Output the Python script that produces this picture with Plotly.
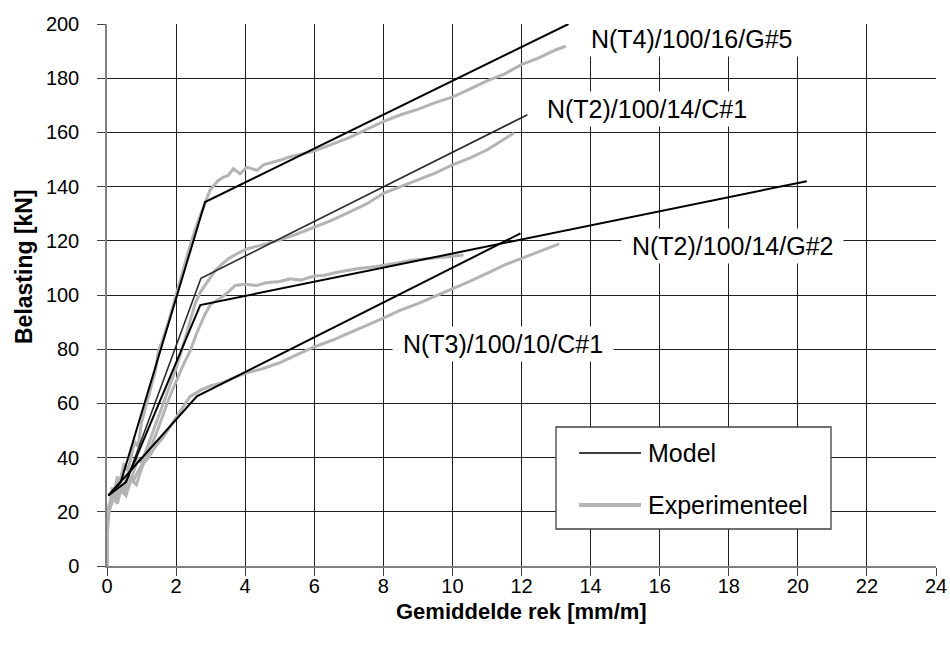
import plotly.graph_objects as go

# ---------------- data ----------------
# Model (black) curves: strain [mm/m], load [kN]
model_T4_G5_x = [0.04, 0.40, 2.84, 13.36]
model_T4_G5_y = [26.0, 31.0, 134.3, 200.0]
model_T2_C1_x = [0.04, 0.55, 2.72, 12.17]
model_T2_C1_y = [26.0, 31.0, 106.2, 166.5]
model_T2_G2_x = [0.04, 0.55, 2.70, 20.26]
model_T2_G2_y = [26.0, 31.0, 96.3, 142.0]
model_T3_C1_x = [0.04, 2.60, 11.97]
model_T3_C1_y = [26.0, 62.6, 122.7]

# Experimental (grey) curves
exp_T4_G5_x = [0, 0.02, 0.05, 0.1, 0.15, 0.2, 0.3, 0.35, 0.5, 0.6, 0.8, 0.9, 1.0, 1.2, 1.4, 1.49, 1.6, 1.8,
               2.0, 2.2, 2.4, 2.6, 2.8, 2.98, 3.2, 3.37, 3.5, 3.66, 3.85, 4.05, 4.34, 4.53, 5.0, 5.3, 5.97,
               6.5, 7.0, 7.5, 8.0, 8.5, 9.0, 9.5, 10.0, 10.5, 11.0, 11.5, 12.0, 12.5, 13.0, 13.28]
exp_T4_G5_y = [0, 18, 22, 24, 29, 26, 33, 30, 38, 35, 46, 44, 53, 62, 72, 79.5, 83, 91,
               100, 109, 118, 126, 133, 138.6, 142, 143.5, 144, 146.6, 144.7, 147.2, 146.0, 148, 149.7, 151, 153,
               155.5, 158, 161, 164, 166.5, 168.5, 171, 173, 176, 179, 181.5, 185, 187.5, 190.5, 191.8]

exp_T2_C1_x = [0, 0.02, 0.05, 0.1, 0.2, 0.25, 0.35, 0.45, 0.6, 0.7, 0.9, 1.0, 1.2, 1.4, 1.6, 1.8, 2.0, 2.16,
               2.3, 2.55, 2.7, 2.84, 3.13, 3.3, 3.51, 3.8, 4.05, 4.5, 4.92, 5.5, 6.0, 6.5, 7.0, 7.5, 8.0,
               8.5, 9.0, 9.5, 10.0, 10.5, 11.0, 11.5, 11.78]
exp_T2_C1_y = [0, 17, 21, 23, 27, 24, 30, 28, 34, 32, 40, 38, 45, 52, 59, 66, 73, 79.5,
               86, 96.8, 101, 103.5, 109, 111, 113.4, 115.5, 117, 118.5, 120, 122.5, 125, 127.5, 130.5, 133.5, 137.5,
               140, 142.5, 145, 148, 150.5, 153.5, 157.5, 159.8]

exp_T2_G2_x = [0, 0.02, 0.05, 0.1, 0.2, 0.3, 0.4, 0.55, 0.7, 0.85, 1.0, 1.2, 1.4, 1.6, 1.8, 2.0, 2.2, 2.41,
               2.6, 2.84, 3.0, 3.32, 3.5, 3.71, 4.0, 4.34, 4.6, 5.0, 5.3, 5.6, 6.0, 6.27, 6.7, 7.24, 7.8,
               8.3, 8.78, 9.3, 9.8, 10.32]
exp_T2_G2_y = [0, 16, 20, 22, 25, 23, 28, 26, 32, 30, 36, 42, 48, 55, 62, 68, 74, 79.5,
               86, 93, 96.5, 99.2, 101, 103.5, 104, 103.5, 104.5, 105, 106, 105.5, 107, 107.2, 108.5, 109.7, 110.5,
               111.5, 112.7, 113.5, 114, 114.8]

exp_T3_C1_x = [0, 0.02, 0.05, 0.1, 0.2, 0.3, 0.4, 0.5, 0.6, 0.75, 0.9, 1.0, 1.2, 1.4, 1.6, 1.8, 2.0, 2.2,
               2.4, 2.7, 3.0, 3.3, 3.65, 3.95, 4.5, 5.0, 5.5, 5.97, 6.5, 7.0, 7.5, 8.0, 8.48, 9.0, 9.5,
               10.0, 10.5, 11.0, 11.5, 12.0, 12.5, 13.09]
exp_T3_C1_y = [0, 15, 19, 22, 26, 24, 29, 27, 32, 31, 35, 37, 40, 44, 47, 51, 55, 58.5,
               62.5, 64.8, 66.5, 67.5, 69.3, 70.9, 72.8, 75, 78, 80.7, 83.2, 85.8, 88.7, 91.5, 94.3, 96.8, 99.5,
               102.3, 105, 108, 111, 113.5, 116, 118.9]

label_texts = ["N(T4)/100/16/G#5", "N(T2)/100/14/C#1", "N(T2)/100/14/G#2", "N(T3)/100/10/C#1"]
label_x = [16.92, 15.63, 18.11, 11.46]
label_y = [194.5, 168.8, 118.0, 82.0]

legend_names = ["Model", "Experimenteel"]

x_ticks = list(range(0, 25, 2))
y_ticks = list(range(0, 201, 20))

x_title = "Gemiddelde rek [mm/m]"
y_title = "Belasting [kN]"

# ---------------- figure ----------------
FONT = "Arial, Liberation Sans, sans-serif"
W, H = 950, 651
ML, MR, MT, MB = 107, 14, 24, 85
PW, PH = W - ML - MR, H - MT - MB

def px_x(px):
    return (px - ML) / PW

def px_y(py):
    return (H - MB - py) / PH

GREY = "#b4b4b4"
fig = go.Figure()

exps = [(exp_T4_G5_x, exp_T4_G5_y), (exp_T2_C1_x, exp_T2_C1_y),
        (exp_T2_G2_x, exp_T2_G2_y), (exp_T3_C1_x, exp_T3_C1_y)]
for i, (xs, ys) in enumerate(exps):
    fig.add_trace(go.Scatter(x=xs, y=ys, mode="lines", name=legend_names[1],
                             line=dict(color=GREY, width=3), showlegend=False,
                             legendgroup="exp"))

models = [(model_T4_G5_x, model_T4_G5_y, "#000000", 2),
          (model_T2_C1_x, model_T2_C1_y, "#2a2a2a", 1.6),
          (model_T2_G2_x, model_T2_G2_y, "#000000", 2),
          (model_T3_C1_x, model_T3_C1_y, "#000000", 2)]
for xs, ys, c, w in models:
    fig.add_trace(go.Scatter(x=xs, y=ys, mode="lines", name=legend_names[0],
                             line=dict(color=c, width=w), showlegend=False,
                             legendgroup="model"))

# curve labels
for t, lx, ly in zip(label_texts, label_x, label_y):
    fig.add_annotation(x=lx, y=ly, xref="x", yref="y", text="\u00a0" + t + "\u00a0",
                       showarrow=False, bgcolor="white", borderpad=3,
                       font=dict(family=FONT, size=25, color="black"))

# legend box (drawn)
fig.add_shape(type="rect", xref="paper", yref="paper",
              x0=px_x(556), x1=px_x(831), y0=px_y(529), y1=px_y(427),
              line=dict(color="#404040", width=1.3), fillcolor="white", layer="above")
fig.add_shape(type="line", xref="paper", yref="paper",
              x0=px_x(579), x1=px_x(641), y0=px_y(453), y1=px_y(453),
              line=dict(color="#000000", width=1.6), layer="above")
fig.add_shape(type="line", xref="paper", yref="paper",
              x0=px_x(579), x1=px_x(641), y0=px_y(505), y1=px_y(505),
              line=dict(color=GREY, width=4), layer="above")
for name, py in zip(legend_names, [453, 505]):
    fig.add_annotation(x=px_x(646), y=px_y(py), xref="paper", yref="paper",
                       text=name, showarrow=False, xanchor="left", yanchor="middle",
                       font=dict(family=FONT, size=25, color="black"))

# axis titles
fig.add_annotation(x=px_x(24), y=px_y(267), xref="paper", yref="paper",
                   text="<b>" + y_title + "</b>", textangle=-90, showarrow=False,
                   xanchor="center", yanchor="middle",
                   font=dict(family=FONT, size=23, color="black"))
fig.add_annotation(x=0.5, y=px_y(611), xref="paper", yref="paper",
                   text="<b>" + x_title + "</b>", showarrow=False,
                   xanchor="center", yanchor="middle",
                   font=dict(family=FONT, size=22, color="black"))

fig.update_layout(
    width=W, height=H,
    margin=dict(l=ML, r=MR, t=MT, b=MB, autoexpand=False),
    paper_bgcolor="white", plot_bgcolor="white",
    showlegend=False,
    font=dict(family=FONT, color="black"),
)
fig.update_xaxes(
    range=[0, 24], tickvals=x_ticks, ticktext=[str(v) for v in x_ticks],
    showgrid=True, gridcolor="#1e1e1e", gridwidth=1,
    showline=True, linecolor="#808080", linewidth=1.5, zeroline=False,
    ticks="outside", ticklen=8, tickcolor="#404040", tickwidth=1,
    ticklabelstandoff=-7,
    tickfont=dict(family=FONT, size=20, color="black"),
)
fig.update_yaxes(
    range=[0, 200], tickvals=y_ticks, ticktext=[str(v) for v in y_ticks],
    showgrid=True, gridcolor="#1e1e1e", gridwidth=1,
    showline=True, linecolor="#808080", linewidth=1.5, zeroline=False,
    ticks="outside", ticklen=8, tickcolor="#404040", tickwidth=1,
    ticklabelstandoff=14,
    tickfont=dict(family=FONT, size=20, color="black"),
)

fig.write_html("out.html")
